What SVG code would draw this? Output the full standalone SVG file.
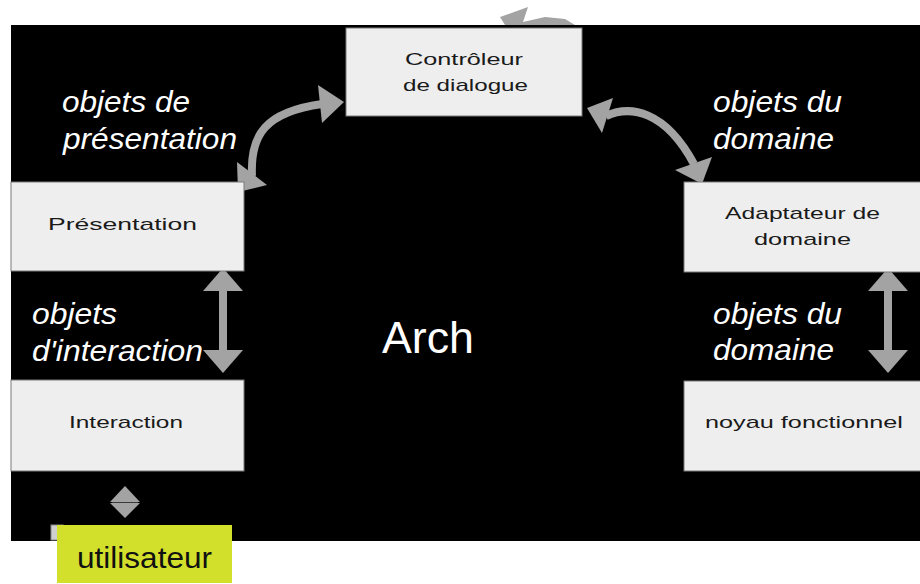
<svg xmlns="http://www.w3.org/2000/svg" width="920" height="584" viewBox="0 0 920 584">
  <defs>
    <style>
      .box { fill: #eeeeee; stroke: #7a7a7a; stroke-width: 1; }
      .lbl { font-family: "Liberation Sans", Arial, sans-serif; font-size: 17px; fill: #1a1a1a; text-anchor: start; }
      .obj { font-family: "Liberation Sans", Arial, sans-serif; font-size: 29px; font-style: italic; fill: #ffffff; }
      .arr { fill: #a3a3a3; }
      .shaft { fill: none; stroke: #a3a3a3; stroke-width: 8; }
    </style>
  </defs>

  <rect x="0" y="0" width="920" height="584" fill="#ffffff"/>

  <!-- partially hidden curved arrow above the black panel -->
  <polygon class="arr" points="500,17 528,7 523,22 545,17 565,19 575,25 505,25"/>

  <!-- black panel -->
  <rect x="11" y="25" width="912" height="516" fill="#000000"/>

  <!-- connectors -->
  <g id="connectors">
    <!-- presentation <-> controller -->
    <path class="shaft" d="M252,176 C250,135 265,112 322,104"/>
    <polygon class="arr" points="318,85 344,102 322,123"/>
    <polygon class="arr" points="237,162 267,185 238,192"/>
    <!-- controller <-> domain adapter -->
    <path class="shaft" d="M606,116 C630,105 665,110 694,164"/>
    <polygon class="arr" points="587,108 613,98 602,133"/>
    <polygon class="arr" points="702,184 675,170 712,157"/>
    <!-- presentation <-> interaction -->
    <rect class="arr" x="219" y="290" width="8" height="62"/>
    <polygon class="arr" points="223,268 243,291 203,291"/>
    <polygon class="arr" points="223,373 243,350 203,350"/>
    <!-- domain adapter <-> functional core -->
    <rect class="arr" x="884" y="290" width="8" height="62"/>
    <polygon class="arr" points="888,268 908,291 868,291"/>
    <polygon class="arr" points="888,373 908,350 868,350"/>
    <!-- interaction <-> user -->
    <polygon class="arr" points="125,486 140,502 110,502"/>
    <polygon class="arr" points="125,518 140,503 110,503"/>
    <line x1="112" y1="502.5" x2="138" y2="502.5" stroke="#3a3a3a" stroke-width="1"/>
  </g>

  <g id="controleur">
    <rect class="box" x="346" y="28" width="236" height="88"/>
    <text class="lbl" x="405" y="65" textLength="118" lengthAdjust="spacingAndGlyphs">Contrôleur</text>
    <text class="lbl" x="403" y="91" textLength="125" lengthAdjust="spacingAndGlyphs">de dialogue</text>
  </g>

  <g id="presentation">
    <rect class="box" x="11" y="182" width="233" height="89"/>
    <text class="lbl" x="48" y="230" textLength="149" lengthAdjust="spacingAndGlyphs">Présentation</text>
  </g>

  <g id="interaction">
    <rect class="box" x="11" y="380" width="233" height="91"/>
    <text class="lbl" x="69" y="428" textLength="114" lengthAdjust="spacingAndGlyphs">Interaction</text>
  </g>

  <g id="adaptateur">
    <rect class="box" x="684" y="182" width="240" height="90"/>
    <text class="lbl" x="725" y="219" textLength="155" lengthAdjust="spacingAndGlyphs">Adaptateur de</text>
    <text class="lbl" x="754" y="245" textLength="97" lengthAdjust="spacingAndGlyphs">domaine</text>
  </g>

  <g id="noyau">
    <rect class="box" x="684" y="381" width="240" height="90"/>
    <text class="lbl" x="705" y="428" textLength="198" lengthAdjust="spacingAndGlyphs">noyau fonctionnel</text>
  </g>

  <!-- flow labels -->
  <g id="labels">
    <text class="obj" x="62" y="112" textLength="128" lengthAdjust="spacingAndGlyphs">objets de</text>
    <text class="obj" x="63" y="149" textLength="174" lengthAdjust="spacingAndGlyphs">présentation</text>
    <text class="obj" x="713" y="112" textLength="129" lengthAdjust="spacingAndGlyphs">objets du</text>
    <text class="obj" x="713" y="149" textLength="121" lengthAdjust="spacingAndGlyphs">domaine</text>
    <text class="obj" x="32" y="324" textLength="85" lengthAdjust="spacingAndGlyphs">objets</text>
    <text class="obj" x="32" y="361" textLength="171" lengthAdjust="spacingAndGlyphs">d'interaction</text>
    <text class="obj" x="713" y="324" textLength="129" lengthAdjust="spacingAndGlyphs">objets du</text>
    <text class="obj" x="713" y="360" textLength="121" lengthAdjust="spacingAndGlyphs">domaine</text>
    <text x="382" y="353" font-family="Liberation Sans, Arial, sans-serif" font-size="45" fill="#ffffff" textLength="92" lengthAdjust="spacingAndGlyphs">Arch</text>
  </g>

  <g id="utilisateur">
    <rect x="51" y="525" width="12" height="15" fill="#cfcfcf" stroke="#8a8a8a" stroke-width="1"/>
    <rect x="57" y="525" width="175" height="58" fill="#d3e02b"/>
    <text x="77" y="568" font-family="Liberation Sans, Arial, sans-serif" font-size="29" fill="#111111" textLength="135" lengthAdjust="spacingAndGlyphs">utilisateur</text>
  </g>
</svg>
